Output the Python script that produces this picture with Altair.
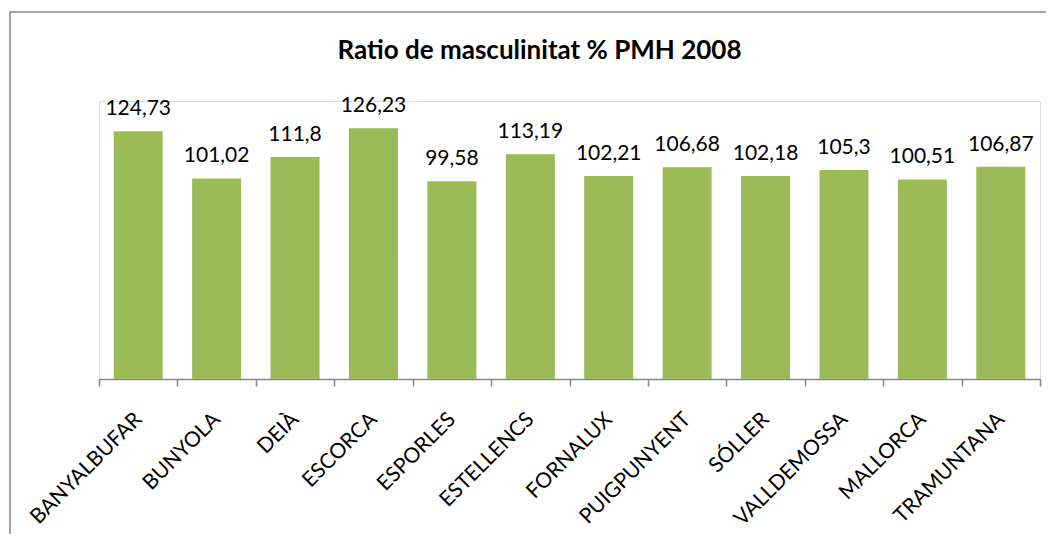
import altair as alt
import pandas as pd

municipis = ["BANYALBUFAR", "BUNYOLA", "DEIÀ", "ESCORCA", "ESPORLES", "ESTELLENCS",
             "FORNALUX", "PUIGPUNYENT", "SÓLLER", "VALLDEMOSSA", "MALLORCA", "TRAMUNTANA"]
ratios = [124.73, 101.02, 111.8, 126.23, 99.58, 113.19,
          102.21, 106.68, 102.18, 105.3, 100.51, 106.87]
etiquetes = [str(v).replace(".", ",") for v in ratios]

df = pd.DataFrame({"municipi": municipis, "ratio": ratios, "etiqueta": etiquetes})

FONT = "Lato"
GRAY = "#868686"

x_enc = alt.X(
    "municipi:N", sort=municipis,
    scale=alt.Scale(paddingInner=0, paddingOuter=0),
    axis=alt.Axis(title=None, labelAngle=-45, labelAlign="right", labelBaseline="middle",
                  labelFont=FONT, labelFontSize=21, labelColor="black",
                  domainColor=GRAY, tickColor=GRAY, tickSize=7, tickBand="extent",
                  labelPadding=30, domainWidth=1.5, tickWidth=1.5),
)
y_enc = alt.Y("ratio:Q", scale=alt.Scale(domain=[0, 140]), axis=None)

base = alt.Chart(df).encode(x=x_enc, y=y_enc)
bars = base.mark_bar(color="#9BBB59", width=alt.RelativeBandSize(0.625))
labels = base.mark_text(dy=-16, baseline="alphabetic", font=FONT, fontSize=21,
                        color="black").encode(text="etiqueta:N")

frame_df = pd.DataFrame({"k": [0]})
left_line = alt.Chart(frame_df).mark_rule(color=GRAY, strokeWidth=1.5).encode(
    x=alt.value(-89), y=alt.value(-89), y2=alt.value(460))
top_line = alt.Chart(frame_df).mark_rule(color=GRAY, strokeWidth=1.5).encode(
    x=alt.value(-89), x2=alt.value(1000), y=alt.value(-89))

chart = alt.layer(left_line, top_line, bars, labels).properties(
    width=941, height=278,
    autosize=alt.AutoSizeParams(type="none"),
    padding={"left": 91, "top": 93, "right": 6, "bottom": 155},
    title=alt.TitleParams("Ratio de masculinitat % PMH 2008", font=FONT, fontSize=26,
                          fontWeight="bold", anchor="middle", dx=-30, offset=-74,
                          baseline="alphabetic", color="black"),
).configure_view(stroke=None).configure(background="white")

chart.save("out.html", embed_options={"renderer": "svg", "actions": False})
